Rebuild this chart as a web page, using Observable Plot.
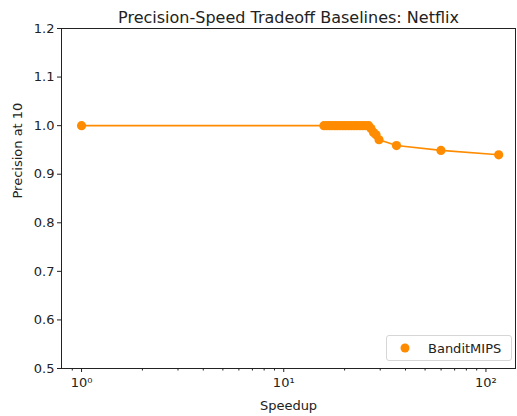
<!DOCTYPE html>
<html>
<head>
<meta charset="utf-8">
<script src="https://cdn.jsdelivr.net/npm/d3@7"></script>
<script src="https://cdn.jsdelivr.net/npm/@observablehq/plot@0.6"></script>
<style>
  html, body { margin: 0; padding: 0; background: #fff; }
  #chart { position: relative; width: 517px; height: 416px; font-family: "DejaVu Sans", sans-serif; }
  #legend {
    position: absolute; left: 386px; top: 335px; width: 126px; height: 26px;
    box-sizing: border-box; border: 1px solid #d6d6d6; border-radius: 3px; background: rgba(255,255,255,0.8);
    font-size: 13px; color: #222; display: flex; align-items: center;
  }
  #legend svg { margin-left: 13px; margin-right: 18px; }
</style>
</head>
<body>
<div id="chart"></div>
<script>
// BanditMIPS precision/speed tradeoff on Netflix
const speedup = [1.0, 15.8, 16.3, 16.8, 17.3, 17.9, 18.4, 19.0, 19.6, 20.2, 20.9, 21.6, 22.3, 23.0, 23.8, 24.6, 25.4, 26.3, 27.0, 27.8, 28.6, 29.6, 36.1, 59.9, 115.6];
const precision = [1.0, 1.0, 1.0, 1.0, 1.0, 1.0, 1.0, 1.0, 1.0, 1.0, 1.0, 1.0, 1.0, 1.0, 1.0, 1.0, 1.0, 1.0, 0.994, 0.986, 0.981, 0.971, 0.959, 0.949, 0.940];
const yTicks = [0.5, 0.6, 0.7, 0.8, 0.9, 1.0, 1.1, 1.2];
const xMajor = [1, 10, 100];
const xMinor = [0.9, 2, 3, 4, 5, 6, 7, 8, 9, 20, 30, 40, 50, 60, 70, 80, 90];
const seriesName = "BanditMIPS";
const title = "Precision-Speed Tradeoff Baselines: Netflix";
const color = "#ff8c00";

const data = speedup.map((s, i) => ({speedup: s, precision: precision[i]}));
const sup = {"0": "\u2070", "1": "\u00b9", "2": "\u00b2"};

const plot = Plot.plot({
  width: 517,
  height: 416,
  marginLeft: 61,
  marginRight: 2,
  marginTop: 28,
  marginBottom: 48,
  style: {fontFamily: "DejaVu Sans, sans-serif", fontSize: "13px", color: "#222", background: "#fff"},
  x: {type: "log", domain: [0.796, 140]},
  y: {domain: [0.5, 1.2]},
  marks: [
    Plot.frame({stroke: "#222", strokeWidth: 1}),
    Plot.axisY({ticks: yTicks, tickSize: 4, tickPadding: 3, tickFormat: d => d.toFixed(1), label: null, fontSize: 13}),
    Plot.axisX({ticks: xMajor, tickSize: 4, tickPadding: 5, tickFormat: d => "10" + sup[String(Math.round(Math.log10(d)))], label: null, fontSize: 13}),
    Plot.axisX({ticks: xMinor, tickSize: 2.5, tickFormat: () => "", label: null}),
    Plot.text([title], {frameAnchor: "top", dy: -17, fontSize: 16, fill: "#222"}),
    Plot.text(["Speedup"], {frameAnchor: "bottom", dy: 41, fontSize: 13, fill: "#222"}),
    Plot.text(["Precision at 10"], {frameAnchor: "left", dx: -44, rotate: -90, fontSize: 13, fill: "#222"}),
    Plot.line(data, {x: "speedup", y: "precision", stroke: color, strokeWidth: 1.6}),
    Plot.dot(data, {x: "speedup", y: "precision", r: 4.6, fill: color, stroke: "none"})
  ]
});

const chart = document.getElementById("chart");
chart.appendChild(plot);

const legend = document.createElement("div");
legend.id = "legend";
legend.innerHTML = `<svg width="10" height="10"><circle cx="5" cy="5" r="4.5" fill="${color}"/></svg><span>${seriesName}</span>`;
chart.appendChild(legend);
</script>
</body>
</html>
